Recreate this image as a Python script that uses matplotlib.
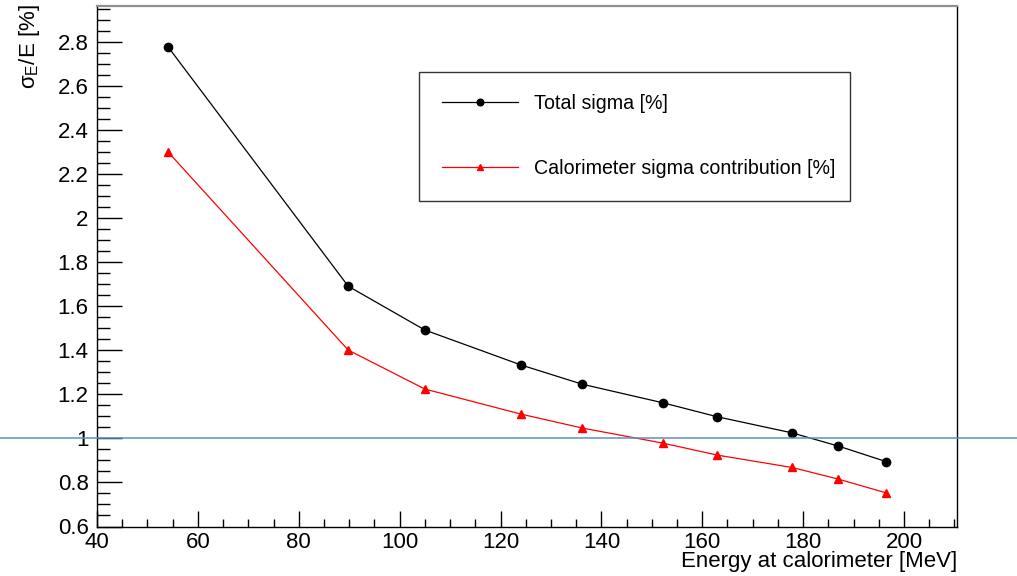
import matplotlib
matplotlib.use("Agg")
import matplotlib.pyplot as plt
import matplotlib.transforms as mtransforms
from matplotlib.ticker import MultipleLocator

plt.rcParams["font.family"] = ["Liberation Sans", "DejaVu Sans"]

# data
energy = [54.1, 89.8, 105.0, 124.1, 136.2, 152.3, 163.0, 177.8, 187.0, 196.4]
total_sigma = [2.777, 1.691, 1.492, 1.333, 1.246, 1.161, 1.098, 1.025, 0.965, 0.895]
calo_sigma = [2.300, 1.401, 1.224, 1.110, 1.047, 0.978, 0.924, 0.868, 0.815, 0.753]
labels = ["Total sigma [%]", "Calorimeter sigma contribution [%]"]
ref_level = 1.0

W, H = 1017, 576
fig = plt.figure(figsize=(W / 100, H / 100), dpi=100)
ax = fig.add_axes([97 / W, 1 - 526.5 / H, (957 - 97) / W, (526.5 - 6) / H])

ax.plot(energy, total_sigma, color="black", lw=0.9, marker="o", ms=6,
        label=labels[0], zorder=3)
ax.plot(energy, calo_sigma, color="red", lw=0.9, marker="^", ms=6,
        label=labels[1], zorder=3)

# reference line spanning the whole canvas width
trans = mtransforms.blended_transform_factory(fig.transFigure, ax.transData)
ax.plot([0, 1], [ref_level, ref_level], color="#5a8fc8", lw=1.1,
        transform=trans, clip_on=False, zorder=4)

ax.set_xlim(40, 210.5)
ax.set_ylim(0.6, 2.963)

ax.xaxis.set_major_locator(MultipleLocator(20))
ax.xaxis.set_minor_locator(MultipleLocator(5))
ax.yaxis.set_major_locator(MultipleLocator(0.2))
ax.yaxis.set_minor_locator(MultipleLocator(0.05))
ax.yaxis.set_major_formatter(plt.FuncFormatter(lambda v, p: f"{v:g}"))

ax.tick_params(axis="both", which="both", direction="in", labelsize=16,
               top=False, right=False, width=1.0)
ax.tick_params(axis="y", which="major", length=18, pad=6)
ax.tick_params(axis="y", which="minor", length=9.5)
ax.tick_params(axis="x", which="major", length=11.5, pad=4)
ax.tick_params(axis="x", which="minor", length=5.8)

for s in ["left", "bottom", "right"]:
    ax.spines[s].set_color("black")
    ax.spines[s].set_linewidth(1.0)
ax.spines["top"].set_color("#909090")
ax.spines["top"].set_linewidth(1.6)

fig.text(957 / W, 1 - 562 / H, "Energy at calorimeter [MeV]", ha="right",
         va="center", fontsize=16)
fig.text(29 / W, 1 - 4 / H, r"$\mathregular{\sigma_{E}}$/E [%]", ha="center",
         va="top", rotation=90, fontsize=16)

leg = ax.legend(loc="upper left",
                bbox_to_anchor=(419 / W, 1 - 71.7 / H, 431 / W, 0.0),
                bbox_transform=fig.transFigure, mode="expand",
                fontsize=14.1, frameon=True, fancybox=False, shadow=False,
                borderpad=1.15, labelspacing=2.35, handlelength=3.9,
                handletextpad=0.82, markerscale=0.8, borderaxespad=0)
leg.get_frame().set_edgecolor("black")
leg.get_frame().set_linewidth(1.0)

fig.savefig("out.png", dpi=100)
